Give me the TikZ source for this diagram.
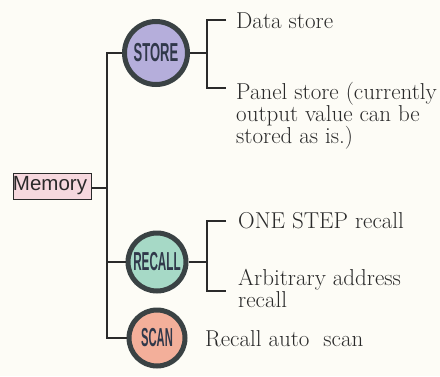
\documentclass[tikz,border=0pt]{standalone}
\usepackage{fontspec}
\newfontfamily\memfont{Liberation Sans}
\newfontfamily\btnfont{Liberation Sans}
\usepackage{graphicx}
\definecolor{bg}{HTML}{FDFCF6}
\definecolor{ink}{HTML}{2A2A2A}
\definecolor{ring}{HTML}{3A4244}
\definecolor{btntext}{HTML}{30384A}
\definecolor{storefill}{HTML}{B5AEDB}
\definecolor{recallfill}{HTML}{A6D9C6}
\definecolor{scanfill}{HTML}{F3AF9A}
\definecolor{memfill}{HTML}{F6D8DE}
\begin{document}
\begin{tikzpicture}[x=1pt,y=-1pt,
  wire/.style={draw=ink,line width=1.1pt},
  btn/.style={circle,draw=ring,line width=5pt,inner sep=0pt,text=btntext,
    font=\btnfont\bfseries\fontsize{26}{26}\selectfont},
  lbl/.style={anchor=base west,inner sep=0pt,text=ink,font=\fontsize{23}{22}\selectfont},
  membox/.style={draw=ink,line width=0.9pt,fill=memfill,minimum width=78pt,minimum height=26pt,
    inner sep=1pt,text=ink,font=\memfont\fontsize{20.5}{20}\selectfont}]
\fill[bg] (0,0) rectangle (440,376);
\useasboundingbox (0,0) rectangle (440,376);
% memory box
\node[membox] (mem) at (52,186) {\hspace*{-4pt}Memory};
\coordinate (tj) at (107,188);
\coordinate (tt) at (107,53);
\coordinate (tb) at (107,338);
% buttons
\node[btn,fill=storefill,minimum size=63pt] (store) at (156,53) {\scalebox{0.5}[1]{STORE}};
\node[btn,fill=recallfill,minimum size=58pt] (recall) at (157,262) {\scalebox{0.45}[1]{RECALL}};
\node[btn,fill=scanfill,minimum size=56pt] (scan) at (157,338) {\scalebox{0.43}[1]{SCAN}};
% trunk
\draw[wire] (mem.east |- tj) -- (tj);
\draw[wire] (store.west) -- (tt) -- (tb) -- (scan.west);
\draw[wire] (recall.west) -- (recall.west -| tt);
% store bracket
\coordinate (sb) at (207,53);
\coordinate (sbt) at (207,20);
\coordinate (sbb) at (207,88);
\coordinate (sbte) at (226,20);
\coordinate (sbbe) at (226,88);
\draw[wire] (store.east) -- (sb);
\draw[wire] (sbte) -- (sbt) -- (sbb) -- (sbbe);
\node[lbl] (ds) at (236,28) {Data store};
\node[lbl] (ps1) at (236,99) {Panel store (currently};
\node[lbl] (ps2) at (236,121) {output value can be};
\node[lbl] (ps3) at (236,143) {stored as is.)};
% recall bracket
\coordinate (rb) at (207,262);
\coordinate (rbt) at (207,221);
\coordinate (rbb) at (207,291);
\coordinate (rbte) at (226,221);
\coordinate (rbbe) at (226,291);
\draw[wire] (recall.east) -- (rb);
\draw[wire] (rbte) -- (rbt) -- (rbb) -- (rbbe);
\node[lbl] (os) at (238,228) {ONE STEP recall};
\node[lbl] (aa1) at (238,285) {Arbitrary address};
\node[lbl] (aa2) at (238,307) {recall};
\node[lbl] (ras) at (205,346) {Recall auto\ \ scan};
\end{tikzpicture}
\end{document}
